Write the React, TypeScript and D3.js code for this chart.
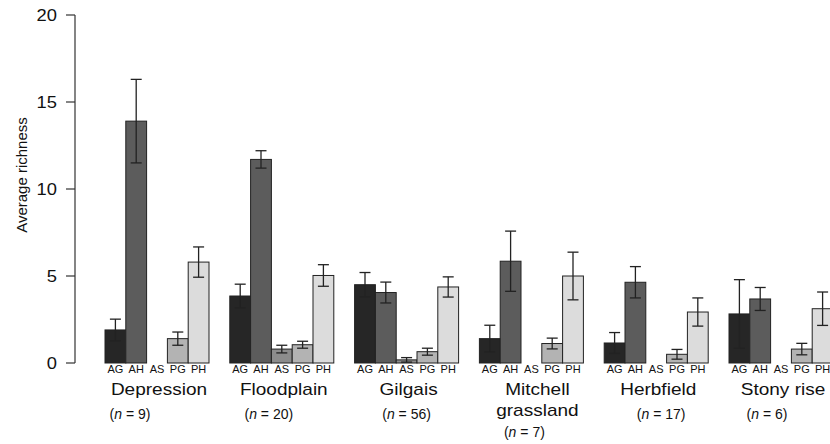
import React from "react";
import * as d3 from "d3";

const habitats = ["Depression", "Floodplain", "Gilgais", "Mitchell\ngrassland", "Herbfield", "Stony rise"];
const sampleSizes = [9, 20, 56, 7, 17, 6];
const groupsLF = ["AG", "AH", "AS", "PG", "PH"];
const meanAG = [1.9, 3.85, 4.5, 1.4, 1.15, 2.82];
const meanAH = [13.9, 11.7, 4.05, 5.85, 4.64, 3.68];
const meanAS = [0, 0.8, 0.18, 0, 0, 0];
const meanPG = [1.4, 1.05, 0.65, 1.12, 0.5, 0.8];
const meanPH = [5.8, 5.03, 4.37, 5.0, 2.93, 3.12];
const seAG = [0.62, 0.68, 0.7, 0.77, 0.6, 1.97];
const seAH = [2.4, 0.5, 0.6, 1.73, 0.9, 0.66];
const seAS = [0, 0.22, 0.13, 0, 0, 0];
const sePG = [0.38, 0.2, 0.2, 0.31, 0.28, 0.33];
const sePH = [0.87, 0.62, 0.58, 1.37, 0.81, 0.96];
const yTicks = [0, 5, 10, 15, 20];

const means = [meanAG, meanAH, meanAS, meanPG, meanPH];
const ses = [seAG, seAH, seAS, sePG, sePH];
const fills = ["#262626", "#5c5c5c", "#8c8c8c", "#b3b3b3", "#dcdcdc"];
// layout offsets for the "(n = ...)" labels relative to group centre
const nOffsets = [-27, -13, 0, -7, 5, -14];

const FONT = "Liberation Sans, Arial, Helvetica, sans-serif";

export default function App() {
  const W = 830, H = 444;
  const unit = 20.8;
  const x0 = 84.2;
  const x = d3.scaleLinear().domain([0, 1]).range([x0, x0 + unit]);
  const y = d3.scaleLinear().domain([0, 20]).range([363, 15]);
  const axisX = 75;

  const bars: any[] = [];
  habitats.forEach((h, g) => {
    groupsLF.forEach((lf, i) => {
      const idx = g * 6 + 1 + i;
      bars.push({ g, i, lf, left: x(idx), right: x(idx + 1), v: means[i][g], se: ses[i][g] });
    });
  });

  return (
    <svg width={W} height={H} style={{ position: "absolute", left: 0, top: 0, background: "#fff" }} fontFamily={FONT}>
      {/* y axis */}
      <line x1={axisX} x2={axisX} y1={y(20)} y2={y(0)} stroke="#333" strokeWidth={1.2} />
      {yTicks.map((t) => (
        <g key={t}>
          <line x1={axisX - 9} x2={axisX} y1={y(t)} y2={y(t)} stroke="#333" strokeWidth={1.2} />
          <text transform={`translate(57,${y(t)}) scale(1.08,1)`} dy="0.36em" textAnchor="end" fontSize={17} fill="#111">{t}</text>
        </g>
      ))}
      <text transform={`translate(27,175) rotate(-90)`} textAnchor="middle" fontSize={15} fill="#111">
        Average richness
      </text>

      {/* bars */}
      {bars.map((b, k) =>
        b.v > 0 ? (
          <rect key={"r" + k} x={b.left} y={y(b.v)} width={b.right - b.left} height={y(0) - y(b.v)}
            fill={fills[b.i]} stroke="#222" strokeWidth={1} />
        ) : null
      )}
      {/* error bars */}
      {bars.map((b, k) => {
        if (!(b.v > 0)) return null;
        const cx = (b.left + b.right) / 2;
        const top = y(b.v + b.se);
        const bot = y(Math.max(0, b.v - b.se));
        return (
          <g key={"e" + k} stroke="#222" strokeWidth={1.3}>
            <line x1={cx} x2={cx} y1={top} y2={bot} />
            <line x1={cx - 5.5} x2={cx + 5.5} y1={top} y2={top} />
            <line x1={cx - 5.5} x2={cx + 5.5} y1={bot} y2={bot} />
          </g>
        );
      })}
      {/* bar labels */}
      {bars.map((b, k) => (
        <text key={"l" + k} transform={`translate(${(b.left + b.right) / 2},373) scale(1.1,1)`} textAnchor="middle" fontSize={10} fill="#111">
          {b.lf}
        </text>
      ))}
      {/* habitat labels */}
      {habitats.map((h, g) => {
        const cx = (x(g * 6 + 1) + x(g * 6 + 6)) / 2 + 2;
        const lines = h.split("\n");
        return (
          <g key={"h" + g}>
            {lines.map((ln, j) => (
              <text key={j} transform={`translate(${cx + (lines.length > 1 ? 4 : 0)},${395 + j * 21}) scale(1.12,1)`} textAnchor="middle" fontSize={17} fill="#111">
                {ln}
              </text>
            ))}
            <text x={cx - 2 + nOffsets[g]} y={419 + (lines.length - 1) * 18} textAnchor="middle" fontSize={14} fill="#111">
              (<tspan fontStyle="italic">n</tspan> = {sampleSizes[g]})
            </text>
          </g>
        );
      })}
    </svg>
  );
}
